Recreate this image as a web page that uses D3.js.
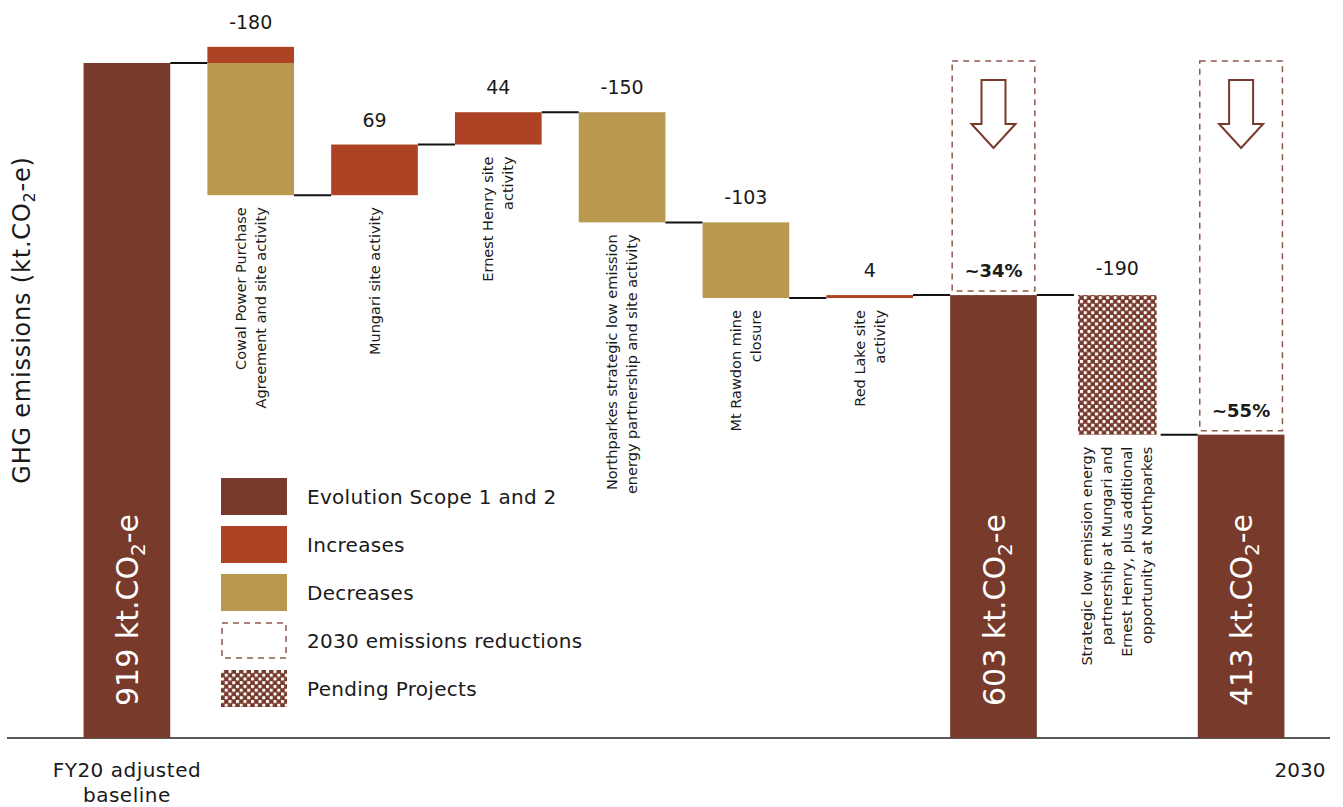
<!DOCTYPE html>
<html>
<head>
<meta charset="utf-8">
<script src="https://cdn.jsdelivr.net/npm/d3@7"></script>
<style>
  body { margin: 0; background: #fff; }
  svg text { font-family: "DejaVu Sans", sans-serif; fill: #1a1a1a; }
</style>
</head>
<body>
<svg id="chart" width="1343" height="807"></svg>
<script>
// данные
const categories = ["base", "cowal", "mungari", "ernest", "northparkes", "rawdon", "redlake", "total2030a", "pending", "total2030b"];
const categoryLabels = [
  [],
  ["Cowal Power Purchase", "Agreement and site activity"],
  ["Mungari site activity"],
  ["Ernest Henry site", "activity"],
  ["Northparkes strategic low emission", "energy partnership and site activity"],
  ["Mt Rawdon mine", "closure"],
  ["Red Lake site", "activity"],
  [],
  ["Strategic low emission energy", "partnership at Mungari and", "Ernest Henry, plus additional", "opportunity at Northparkes"],
  []
];
const baseline = 919;
const stepCats = ["cowal", "mungari", "ernest", "northparkes", "rawdon", "redlake"];
const stepLabels = ["-180", "69", "44", "-150", "-103", "4"];
const increases = [22, 69, 44, 0, 0, 4];
const decreases = [202, 0, 0, 150, 103, 0];
const total2030a = 603;
const pendingValue = 190;
const total2030b = 413;
const reductionLabels = ["~34%", "~55%"];
const legendItems = ["Evolution Scope 1 and 2", "Increases", "Decreases", "2030 emissions reductions", "Pending Projects"];

const colEvol = "#783a2b", colInc = "#ad4224", colDec = "#b99850", colDash = "#8c5a4c";

const svg = d3.select("#chart");
const x = d3.scaleBand().domain(categories).range([65, 1303]).paddingInner(0.3).paddingOuter(0.15);
const y = d3.scaleLinear().domain([0, baseline]).range([738, 63]);
const bw = x.bandwidth();

// узор для pending
const defs = svg.append("defs");
const pat = defs.append("pattern").attr("id", "pend").attr("patternUnits", "userSpaceOnUse")
  .attr("width", 7.5).attr("height", 7.5);
pat.append("rect").attr("width", 7.5).attr("height", 7.5).attr("fill", colEvol);
pat.append("rect").attr("x", 0).attr("y", 0).attr("width", 3).attr("height", 3).attr("fill", "#fff");
pat.append("rect").attr("x", 3.75).attr("y", 3.75).attr("width", 3).attr("height", 3).attr("fill", "#fff");

// ось
svg.append("line").attr("x1", 7).attr("x2", 1330).attr("y1", y(0)).attr("y2", y(0))
  .attr("stroke", "#222").attr("stroke-width", 1.5);

// считаем шаги
let running = baseline;
const steps = stepCats.map(function(c, i) {
  const start = running;
  const top = start + increases[i];
  const end = top - decreases[i];
  running = end;
  return { cat: c, start: start, top: top, end: end, inc: increases[i], dec: decreases[i], label: stepLabels[i] };
});

// соединительные линии
const levels = [baseline].concat(steps.map(d => d.end)).concat([total2030a, total2030a - pendingValue]);
const conn = [];
for (let i = 0; i < categories.length - 1; i++) {
  conn.push({ x1: x(categories[i]) + bw, x2: x(categories[i + 1]), v: levels[i] });
}
svg.selectAll("line.conn").data(conn).enter().append("line")
  .attr("class", "conn")
  .attr("x1", d => d.x1).attr("x2", d => d.x2)
  .attr("y1", d => y(d.v)).attr("y2", d => y(d.v))
  .attr("stroke", "#111").attr("stroke-width", 2);

// итоговые столбцы
const totals = [
  { cat: "base", v: baseline },
  { cat: "total2030a", v: total2030a },
  { cat: "total2030b", v: total2030b }
];
svg.selectAll("rect.total").data(totals).enter().append("rect")
  .attr("x", d => x(d.cat)).attr("width", bw)
  .attr("y", d => y(d.v)).attr("height", d => y(0) - y(d.v))
  .attr("fill", colEvol);

// шаги: рост и снижение
steps.forEach(function(d) {
  if (d.inc > 0) {
    svg.append("rect").attr("x", x(d.cat)).attr("width", bw)
      .attr("y", y(d.top)).attr("height", y(d.start) - y(d.top))
      .attr("fill", colInc);
  }
  if (d.dec > 0) {
    svg.append("rect").attr("x", x(d.cat)).attr("width", bw)
      .attr("y", y(d.start)).attr("height", y(d.end) - y(d.start))
      .attr("fill", colDec);
  }
  svg.append("text").attr("x", x(d.cat) + bw / 2).attr("y", y(d.top) - 18)
    .attr("text-anchor", "middle").attr("font-size", 19).text(d.label);
});

// pending
svg.append("rect").attr("x", x("pending") + 4).attr("width", bw - 8)
  .attr("y", y(total2030a)).attr("height", y(total2030a - pendingValue) - y(total2030a))
  .attr("fill", "url(#pend)");
svg.append("text").attr("x", x("pending") + bw / 2).attr("y", y(total2030a) - 20)
  .attr("text-anchor", "middle").attr("font-size", 19).text("-" + pendingValue);

// подписи категорий (повернутые)
const bottoms = { cowal: steps[0].end, mungari: steps[1].start, ernest: steps[2].start, northparkes: steps[3].end,
  rawdon: steps[4].end, redlake: steps[5].start, pending: total2030a - pendingValue };
categories.forEach(function(c, i) {
  const lines = categoryLabels[i];
  if (!lines.length) return;
  const cx = x(c) + bw / 2;
  const top = y(bottoms[c]) + 12;
  const n = lines.length;
  lines.forEach(function(t, j) {
    const lx = cx + (j - (n - 1) / 2) * 20 + 5;
    svg.append("text")
      .attr("transform", "translate(" + lx + "," + top + ") rotate(-90)")
      .attr("text-anchor", "end").attr("font-size", 14.5).text(t);
  });
});

// пунктирные рамки
const boxes = [
  { cat: "total2030a", v: total2030a, label: reductionLabels[0] },
  { cat: "total2030b", v: total2030b, label: reductionLabels[1] }
];
boxes.forEach(function(b) {
  const bx = x(b.cat) + 2, bwid = bw - 4;
  const y0 = y(baseline) - 2, y1 = y(b.v) - 4;
  svg.append("rect").attr("x", bx).attr("y", y0).attr("width", bwid).attr("height", y1 - y0)
    .attr("fill", "none").attr("stroke", colDash).attr("stroke-width", 1.5).attr("stroke-dasharray", "6,5");
  const cx = x(b.cat) + bw / 2;
  const ay = y0 + 19;
  const arrow = [[cx - 12, ay], [cx + 12, ay], [cx + 12, ay + 44], [cx + 22, ay + 44], [cx, ay + 68],
    [cx - 22, ay + 44], [cx - 12, ay + 44]];
  svg.append("polygon").attr("points", arrow.map(p => p.join(",")).join(" "))
    .attr("fill", "none").attr("stroke", colEvol).attr("stroke-width", 2);
  svg.append("text").attr("x", cx).attr("y", y1 - 14).attr("text-anchor", "middle")
    .attr("font-size", 18).attr("font-weight", "bold").text(b.label);
});

// подписи внутри итоговых столбцов
totals.forEach(function(d) {
  const cx = x(d.cat) + bw / 2 + 11;
  const t = svg.append("text")
    .attr("transform", "translate(" + cx + ",706) rotate(-90)")
    .attr("font-size", 30).style("fill", "#fff");
  t.append("tspan").text(d.v + " kt.CO");
  t.append("tspan").attr("dy", 7).attr("font-size", 20).text("2");
  t.append("tspan").attr("dy", -7).text("-e");
});

// подпись оси Y
const yl = svg.append("text").attr("transform", "translate(30,320) rotate(-90)")
  .attr("text-anchor", "middle").attr("font-size", 24).attr("letter-spacing", 0.8);
yl.append("tspan").text("GHG emissions (kt.CO");
yl.append("tspan").attr("dy", 5).attr("font-size", 16).text("2");
yl.append("tspan").attr("dy", -5).text("-e)");

// подписи оси X
const bl = svg.append("text").attr("x", x("base") + bw / 2).attr("y", 777).attr("text-anchor", "middle")
  .attr("font-size", 20).attr("letter-spacing", 0.5);
bl.append("tspan").attr("x", x("base") + bw / 2).text("FY20 adjusted");
bl.append("tspan").attr("x", x("base") + bw / 2).attr("dy", 25).text("baseline");
svg.append("text").attr("x", 1300).attr("y", 777).attr("text-anchor", "middle").attr("font-size", 20).text("2030");

// легенда
const legend = svg.append("g").attr("transform", "translate(221,478)");
const fills = [colEvol, colInc, colDec, "none", "url(#pend)"];
legendItems.forEach(function(t, i) {
  const g = legend.append("g").attr("transform", "translate(0," + i * 48 + ")");
  if (i === 3) {
    g.append("rect").attr("x", 1).attr("y", 1).attr("width", 64).attr("height", 35)
      .attr("fill", "none").attr("stroke", colDash).attr("stroke-width", 1.5).attr("stroke-dasharray", "6,5");
  } else {
    g.append("rect").attr("width", 66).attr("height", 37).attr("fill", fills[i]);
  }
  g.append("text").attr("x", 86).attr("y", 26).attr("font-size", 20).attr("letter-spacing", 0.3).text(t);
});
</script>
</body>
</html>
